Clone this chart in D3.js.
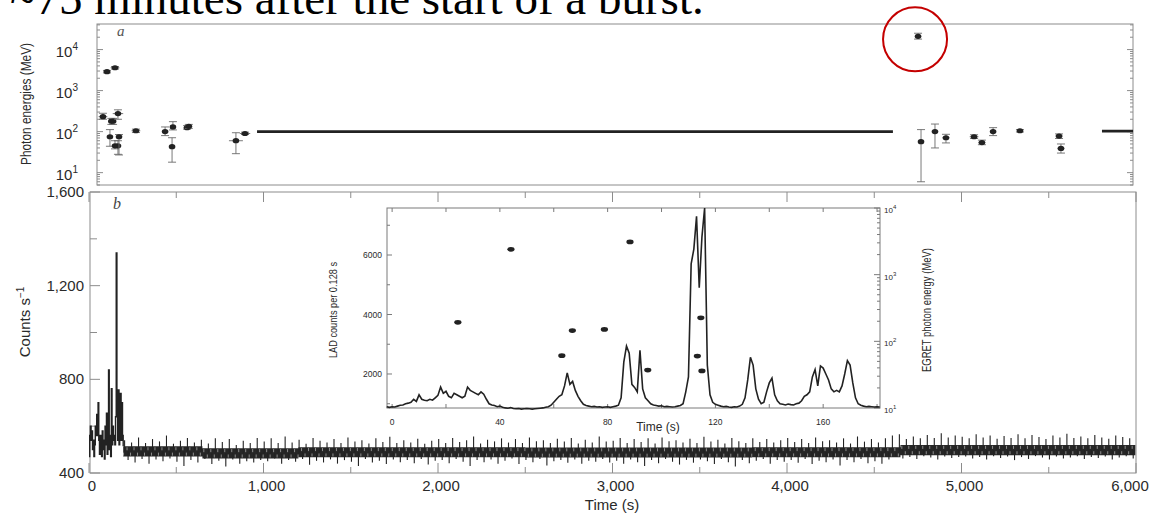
<!DOCTYPE html>
<html><head><meta charset="utf-8">
<script src="https://cdn.jsdelivr.net/npm/d3@7"></script>
<style>body{margin:0;background:#fff;} svg{display:block;}</style>
</head><body>
<svg id="c" width="1157" height="513"></svg>
<script>
// ---------------- DATA ----------------
const titleText = "~75 minutes after the start of a burst.";

// Panel a: EGRET photon energies (time s, energy MeV, error low/high, time half-width)
const topT  = [80, 103, 149, 128, 138, 166, 120, 149, 166, 172, 269, 436, 481, 476, 562, 572, 842, 894, 4751, 4768, 4848, 4911, 5072, 5117, 5181, 5335, 5559, 5570];
const topE  = [232, 2900, 3600, 180, 180, 275, 75, 45, 45, 75, 105, 100, 130, 43, 125, 135, 60, 90, 21000, 57, 100, 71, 75, 54, 100, 105, 78, 39];
const topLo = [200, 2700, 3350, 150, 150, 200, 44, 38, 28, 27, 95, 80, 110, 18, 115, 120, 29, 85, 18000, 6, 40, 53, 68, 48, 80, 98, 68, 30];
const topHi = [280, 3100, 3850, 210, 210, 340, 112, 60, 60, 85, 115, 130, 175, 71, 140, 150, 94, 97, 25000, 112, 153, 86, 84, 62, 125, 112, 88, 50];
const topDt = [25, 20, 25, 0, 0, 30, 0, 0, 0, 0, 25, 0, 0, 0, 20, 20, 40, 30, 15, 0, 0, 20, 25, 20, 0, 0, 20, 20];
const segStart = [963, 5805];
const segEnd   = [4607, 5983];
const segE     = [100, 103];
const topTicks = [10, 100, 1000, 10000];

// Panel b: counts per second. Burst part: 4-s bins from t=0
const burst = [470,560,600,540,580,500,540,470,520,600,560,650,560,700,540,480,560,520,470,580,500,540,460,600,520,655,480,620,840,500,560,470,760,520,600,540,560,520,640,1340,720,540,755,520,600,740,540,700,560];
// Quiescent background: dense noise band (start time, low, high)
const bandT  = [196, 650, 1200, 2500, 3800, 4650, 5996];
const bandLo = [470, 462, 467, 466, 467, 476, 476];
const bandHi = [514, 506, 510, 509, 510, 520, 520];
// individual excursions beyond the band, 20-s spacing from t=196
const bg1 = [540,455,530,445,552,460,528,440,545,458,535,450,560,462,525,448,538,430,550,455,530,445,542,460,526,438,548,452,532,428,545,458,520,440,538,450,528,445,550,455];
const bg2 = [535,450,548,462,528,440,556,455,530,448,542,460,525,435,550,452,538,445,530,458,545,440,528,455,552,448,535,430,540,460,526,445,548,452,532,438,555,458,528,446,540,455,530,442,546,460,525,436,538,452];
const bg3 = [545,455,528,442,550,460,532,448,540,430,556,455,526,446,542,458,535,440,548,452,530,462,545,438,528,455,552,446,536,460,540,432,528,450,546,456,534,444,550,458,526,440,542,452,530,448,556,460,535,445];
const bg4 = [538,452,550,440,528,458,545,446,532,430,548,455,526,442,552,460,536,448,540,436,530,456,546,444,528,458,555,450,534,438,542,460,526,446,550,428,536,455,528,442,548,452,532,460,545,440,530,456,540,448];
const bg5 = [550,456,532,444,545,460,528,438,552,452,536,446,540,458,530,432,548,455,526,446,556,460,534,442,545,450,530,440,548,458,560,470,565,462,545,468,556,460,548,472,562,466,550,458,570,470,552,464,560,468];
const bg6 = [555,470,548,462,565,468,552,458,560,472,546,464,558,470,550,455,566,468,548,460,562,472,554,466,545,458,560,470,552,462,568,466,550,472,556,460,548,468,562,464,552,470,546,458,560,466,554,472,548,462];
const botTickLabels = ["400", "800", "1,200", "1,600"];
const xTickLabels = ["0", "1,000", "2,000", "3,000", "4,000", "5,000", "6,000"];

// Inset: LAD counts per 0.128 s, 1-s samples from t=-2
const lad0 = [900,880,900,890,920,950,960,1000,1020,1050,1150,1080,1300,1150,1120,1100,1150,1120,1200,1280,1560,1350,1420,1250,1200,1350,1300,1250,1200,1250,1560,1450,1400,1350,1300,1400,1320,1150,1000,960,940,900,920,880,860,850,870,840,830,840,820,830,840,830,820,830,840,850,860,880,900,950];
const lad1 = [1050,1150,1250,1300,1600,2040,1650,1750,1450,1250,1100,980,940,920,900,910,890,900,880,890,900,880,900,920,950,1200,2400,2940,2700,1650,1550,1400,2800,1500,1200,1100,1000,960,940,920,930,900,910,900,890,900,920,940,1000,1400,1900,5700,6200,7300,4900,6600,7600,2300,1300,1050];
const lad2 = [980,950,920,900,910,890,880,900,890,920,980,1200,1800,2560,2300,1500,1150,1000,1050,1400,1700,1860,1300,1100,1000,980,960,990,970,960,1000,1020,1100,1250,1300,1400,1900,2150,1600,2270,2200,2000,1800,1500,1400,1450,1400,1600,2000,2450,2300,1700,1200,1000,950,920,900,910,900,890,900,890];
const inT = [24.4, 44.1, 63, 66.9, 78.8, 88.3, 94.9, 113.3, 114.6, 115];
const inE = [193, 2400, 61, 145, 151, 3100, 37, 60, 225, 36];
const inXTicks = [0, 40, 80, 120, 160];
const inLTicks = [2000, 4000, 6000];
const inRTicks = [10, 100, 1000, 10000];

// ---------------- DRAW ----------------
const svg = d3.select('#c');
const ink = '#222', frameC = '#8c8c8c', txt = '#2a2a2a';
const sans = 'Liberation Sans, Arial, Helvetica, sans-serif';

svg.append('text').attr('x', 10).attr('y', 14)
  .attr('font-family', 'Liberation Serif, Times New Roman, serif')
  .attr('font-size', 47).attr('fill', '#000').text(titleText);

const xMain = d3.scaleLinear().domain([0, 6000]).range([89, 1136]);

// ---- Panel a ----
const yTop = d3.scaleLog().domain([5, 42000]).range([185, 24]);
const ta = svg.append('g');
ta.append('rect').attr('x', 97).attr('y', 24).attr('width', 1036).attr('height', 161)
  .attr('fill', 'none').attr('stroke', frameC).attr('stroke-width', 1);
const minorTop = [];
for (let d = 1; d <= 10000; d *= 10) for (let k = 1; k <= 9; k++) { const v = d * k; if (v >= 5 && v <= 42000) minorTop.push(v); }
minorTop.forEach(v => {
  const major = topTicks.includes(v);
  const len = major ? 6 : 3;
  ta.append('line').attr('x1', 97).attr('x2', 97 + len).attr('y1', yTop(v)).attr('y2', yTop(v)).attr('stroke', frameC);
  ta.append('line').attr('x1', 1133).attr('x2', 1133 - len).attr('y1', yTop(v)).attr('y2', yTop(v)).attr('stroke', frameC);
});
topTicks.forEach(v => {
  const t = ta.append('text').attr('x', 78).attr('y', yTop(v) + 7).attr('text-anchor', 'end')
    .attr('font-family', sans).attr('font-size', 15).attr('fill', txt);
  t.append('tspan').text('10');
  t.append('tspan').attr('font-size', 10).attr('dy', -7).text(String(Math.round(Math.log10(v))));
});
ta.append('text').attr('transform', 'translate(31,104) rotate(-90)').attr('text-anchor', 'middle')
  .attr('font-family', sans).attr('font-size', 14).attr('fill', txt)
  .attr('textLength', 122).attr('lengthAdjust', 'spacingAndGlyphs').text('Photon energies (MeV)');
ta.append('text').attr('x', 117).attr('y', 36).attr('font-family', 'Liberation Serif, serif')
  .attr('font-style', 'italic').attr('font-size', 15).attr('fill', '#555').text('a');
segStart.forEach((s, i) => {
  ta.append('line').attr('x1', xMain(s)).attr('x2', xMain(segEnd[i]))
    .attr('y1', yTop(segE[i])).attr('y2', yTop(segE[i])).attr('stroke', ink).attr('stroke-width', 2.6);
});
topT.forEach((t, i) => {
  const x = xMain(t), ylo = yTop(topLo[i]), yhi = yTop(topHi[i]);
  const g = ta.append('g').attr('stroke', '#6a6a6a').attr('stroke-width', 0.9);
  g.append('line').attr('x1', x).attr('x2', x).attr('y1', ylo).attr('y2', yhi);
  g.append('line').attr('x1', x - 4).attr('x2', x + 4).attr('y1', ylo).attr('y2', ylo);
  g.append('line').attr('x1', x - 4).attr('x2', x + 4).attr('y1', yhi).attr('y2', yhi);
  if (topDt[i] > 0) {
    g.append('line').attr('x1', xMain(t - topDt[i])).attr('x2', xMain(t + topDt[i]))
      .attr('y1', yTop(topE[i])).attr('y2', yTop(topE[i]));
  }
  ta.append('ellipse').attr('cx', x).attr('cy', yTop(topE[i])).attr('rx', 3.3).attr('ry', 2.6).attr('fill', ink);
});
const hi = topE.indexOf(d3.max(topE));
svg.append('circle').attr('cx', xMain(topT[hi]) - 3).attr('cy', yTop(topE[hi]) + 3).attr('r', 32)
  .attr('fill', 'none').attr('stroke', '#c40000').attr('stroke-width', 2);

// ---- Panel b ----
const yBot = d3.scaleLinear().domain([400, 1600]).range([473, 192]);
const tb = svg.append('g');
tb.append('rect').attr('x', 90).attr('y', 192).attr('width', 1046).attr('height', 281)
  .attr('fill', 'none').attr('stroke', frameC).attr('stroke-width', 1);
d3.range(400, 1601, 200).forEach(v => {
  const len = v % 400 === 0 ? 10 : 7;
  tb.append('line').attr('x1', 90).attr('x2', 90 + len).attr('y1', yBot(v)).attr('y2', yBot(v)).attr('stroke', frameC);
});
botTickLabels.forEach((l, i) => {
  tb.append('text').attr('x', 84).attr('y', yBot(400 + i * 400) + 5).attr('text-anchor', 'end')
    .attr('font-family', sans).attr('font-size', 15).attr('fill', txt).text(l);
});
d3.range(0, 6001, 500).forEach(v => {
  const len = v % 1000 === 0 ? 10 : 6;
  tb.append('line').attr('x1', xMain(v)).attr('x2', xMain(v)).attr('y1', 473).attr('y2', 473 - len).attr('stroke', frameC);
  tb.append('line').attr('x1', xMain(v)).attr('x2', xMain(v)).attr('y1', 192).attr('y2', 192 + len).attr('stroke', frameC);
});
xTickLabels.forEach((l, i) => {
  tb.append('text').attr('x', xMain(i * 1000) + (i === 6 ? -6 : 3)).attr('y', 491).attr('text-anchor', 'middle')
    .attr('font-family', sans).attr('font-size', 15).attr('fill', txt).text(l);
});
tb.append('text').attr('x', 612).attr('y', 510).attr('text-anchor', 'middle')
  .attr('font-family', sans).attr('font-size', 15).attr('fill', txt).text('Time (s)');
const cl = tb.append('text').attr('transform', 'translate(30,322) rotate(-90)').attr('text-anchor', 'middle')
  .attr('font-family', sans).attr('font-size', 15).attr('fill', txt);
cl.append('tspan').text('Counts s');
cl.append('tspan').attr('font-size', 10).attr('dy', -6).text('−1');
tb.append('text').attr('x', 113).attr('y', 209).attr('font-family', 'Liberation Serif, serif')
  .attr('font-style', 'italic').attr('font-size', 16).attr('fill', '#444').text('b');

const bl = burst.map((v, i) => ({ t: i * 4, v }));
bl.push({ t: burst.length * 4, v: bandHi[0] });
tb.append('path').datum(bl)
  .attr('d', d3.line().x(d => xMain(d.t)).y(d => yBot(d.v)).curve(d3.curveStepAfter))
  .attr('fill', 'none').attr('stroke', ink).attr('stroke-width', 1.4);
const band = bandT.map((t, i) => ({ t, lo: bandLo[i], hi: bandHi[i] }));
tb.append('path').datum(band)
  .attr('d', d3.area().x(d => xMain(d.t)).y0(d => yBot(d.lo)).y1(d => yBot(d.hi)).curve(d3.curveStepAfter))
  .attr('fill', '#262626');
const bgAll = [].concat(bg1, bg2, bg3, bg4, bg5, bg6);
const midOf = t => { let k = 0; for (let j = 0; j < bandT.length; j++) if (bandT[j] <= t) k = j; return (bandLo[k] + bandHi[k]) / 2; };
tb.append('g').selectAll('line').data(bgAll).join('line')
  .attr('x1', (d, i) => xMain(196 + i * 20 + 8)).attr('x2', (d, i) => xMain(196 + i * 20 + 8))
  .attr('y1', (d, i) => yBot(midOf(196 + i * 20)))
  .attr('y2', d => yBot(d))
  .attr('stroke', ink).attr('stroke-width', 1.1);
tb.append('g').selectAll('line').data(bgAll).join('line')
  .attr('x1', (d, i) => xMain(196 + i * 20 + 2)).attr('x2', (d, i) => xMain(196 + i * 20 + 2))
  .attr('y1', (d, i) => yBot(midOf(196 + i * 20) + (i % 2 ? 5 : -5)))
  .attr('y2', (d, i) => yBot(midOf(196 + i * 20) + (i % 2 ? 18 : -18)))
  .attr('stroke', '#fff').attr('stroke-width', 0.8).attr('stroke-opacity', 0.6);

// ---- Inset ----
const xIn = d3.scaleLinear().domain([-1.9, 181.1]).range([387, 880]);
const yInL = d3.scaleLinear().domain([857, 7580]).range([408, 208]);
const yInR = d3.scaleLog().domain([10, 10000]).range([408, 208]);
const ti = svg.append('g');
ti.append('rect').attr('x', 387).attr('y', 208).attr('width', 493).attr('height', 200)
  .attr('fill', '#fff').attr('stroke', '#7a7a7a').attr('stroke-width', 1);
d3.range(1000, 7001, 1000).forEach(v => {
  const len = v % 2000 === 0 ? 5 : 3;
  ti.append('line').attr('x1', 387).attr('x2', 387 + len).attr('y1', yInL(v)).attr('y2', yInL(v)).attr('stroke', '#7a7a7a');
});
inLTicks.forEach(v => {
  ti.append('text').attr('x', 382).attr('y', yInL(v) + 3).attr('text-anchor', 'end')
    .attr('font-family', sans).attr('font-size', 8.5).attr('fill', txt).text(String(v));
});
d3.range(0, 181, 20).forEach(v => {
  ti.append('line').attr('x1', xIn(v)).attr('x2', xIn(v)).attr('y1', 408).attr('y2', 404).attr('stroke', '#7a7a7a');
  ti.append('line').attr('x1', xIn(v)).attr('x2', xIn(v)).attr('y1', 208).attr('y2', 212).attr('stroke', '#7a7a7a');
});
inXTicks.forEach(v => {
  ti.append('text').attr('x', xIn(v)).attr('y', 425).attr('text-anchor', 'middle')
    .attr('font-family', sans).attr('font-size', 8.5).attr('fill', txt).text(String(v));
});
ti.append('text').attr('x', 658).attr('y', 431).attr('text-anchor', 'middle')
  .attr('font-family', sans).attr('font-size', 12).attr('fill', txt).text('Time (s)');
for (let d = 10; d <= 10000; d *= 10) for (let k = 1; k <= 9; k++) {
  const v = d * k; if (v > 10000) break;
  const len = k === 1 ? 6 : 3;
  ti.append('line').attr('x1', 880).attr('x2', 880 - len).attr('y1', yInR(v)).attr('y2', yInR(v)).attr('stroke', '#7a7a7a');
}
inRTicks.forEach(v => {
  const t = ti.append('text').attr('x', 884).attr('y', yInR(v) + 5)
    .attr('font-family', sans).attr('font-size', 8).attr('fill', txt);
  t.append('tspan').text('10');
  t.append('tspan').attr('font-size', 6).attr('dy', -4).text(String(Math.round(Math.log10(v))));
});
ti.append('text').attr('transform', 'translate(337,310) rotate(-90)').attr('text-anchor', 'middle')
  .attr('font-family', sans).attr('font-size', 11).attr('fill', txt)
  .attr('textLength', 96).attr('lengthAdjust', 'spacingAndGlyphs').text('LAD counts per 0.128 s');
ti.append('text').attr('transform', 'translate(931,310) rotate(-90)').attr('text-anchor', 'middle')
  .attr('font-family', sans).attr('font-size', 12).attr('fill', txt)
  .attr('textLength', 124).attr('lengthAdjust', 'spacingAndGlyphs').text('EGRET photon energy (MeV)');
const lad = [].concat(lad0, lad1, lad2).map((v, i) => ({ t: -2 + i, v }));
ti.append('path').datum(lad)
  .attr('d', d3.line().x(d => xIn(d.t)).y(d => Math.max(208, yInL(d.v))))
  .attr('fill', 'none').attr('stroke', ink).attr('stroke-width', 1.6);
inT.forEach((t, i) => {
  ti.append('ellipse').attr('cx', xIn(t)).attr('cy', yInR(inE[i])).attr('rx', 3.6).attr('ry', 2.4).attr('fill', ink);
});
</script>
</body></html>
